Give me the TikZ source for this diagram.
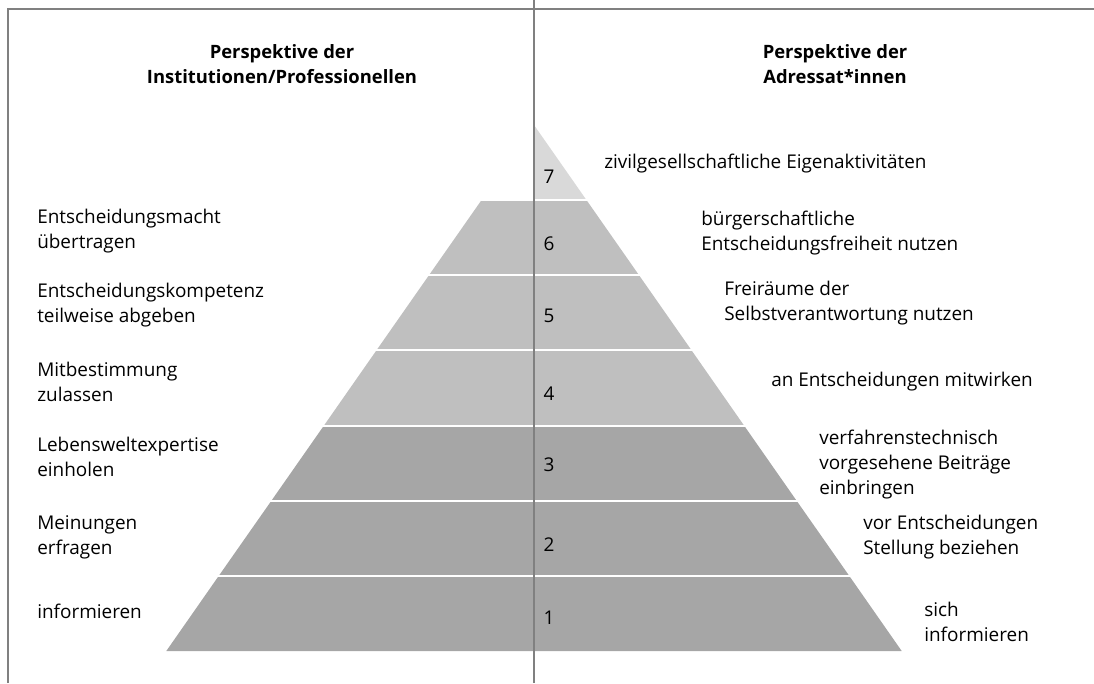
\documentclass[tikz,border=0pt]{standalone}
\usepackage{fontspec}
\setmainfont{Open Sans}
\definecolor{stufeHell}{HTML}{D9D9D9}
\definecolor{stufeMittel}{HTML}{BFBFBF}
\definecolor{stufeDunkel}{HTML}{A6A6A6}
\definecolor{rahmen}{HTML}{808080}

\begin{document}
\begin{tikzpicture}[x=0.75pt,y=0.75pt,yscale=-1,xscale=1,
  txt/.style={anchor=west,inner sep=0.75pt,align=left,font=\fontsize{14.2}{18.75}\selectfont},
  kopf/.style={inner sep=0.75pt,align=center,font=\bfseries\fontsize{13.8}{18.75}\selectfont},
  nummer/.style={inner sep=0.75pt,font=\fontsize{14.2}{18.75}\selectfont},
  trenner/.style={draw=white,line width=1.5pt},
  linie/.style={draw=rahmen,line width=1pt}]
\path[use as bounding box] (0,0) rectangle (1094,683);

%Shape: Triangle [stufe 7]
\fill[stufeHell] (534,125) -- (586.5,200.1) -- (534,200.1) -- cycle ;
%Shape: Trapezoid [stufe 6]
\fill[stufeMittel] (481.5,200.1) -- (586.5,200.1) -- (639.1,275.3) -- (428.9,275.3) -- cycle ;
%Shape: Trapezoid [stufe 5]
\fill[stufeMittel] (428.9,275.3) -- (639.1,275.3) -- (691.6,350.4) -- (376.4,350.4) -- cycle ;
%Shape: Trapezoid [stufe 4]
\fill[stufeMittel] (376.4,350.4) -- (691.6,350.4) -- (744.1,425.6) -- (323.9,425.6) -- cycle ;
%Shape: Trapezoid [stufe 3]
\fill[stufeDunkel] (323.9,425.6) -- (744.1,425.6) -- (796.6,500.7) -- (271.4,500.7) -- cycle ;
%Shape: Trapezoid [stufe 2]
\fill[stufeDunkel] (271.4,500.7) -- (796.6,500.7) -- (849.2,575.8) -- (218.8,575.8) -- cycle ;
%Shape: Trapezoid [stufe 1]
\fill[stufeDunkel] (218.8,575.8) -- (849.2,575.8) -- (901.7,651) -- (166.3,651) -- cycle ;

%Straight Lines [trenner]
\draw[trenner] (478,200.1) -- (590,200.1) ;
\draw[trenner] (425,275.3) -- (643,275.3) ;
\draw[trenner] (372,350.4) -- (696,350.4) ;
\draw[trenner] (319,425.6) -- (749,425.6) ;
\draw[trenner] (266,500.7) -- (802,500.7) ;
\draw[trenner] (213,575.8) -- (855,575.8) ;

%Straight Lines [rahmen]
\coordinate (ecke) at (8,9) ;
\coordinate (obenR) at (1094,9) ;
\coordinate (untenL) at (8,683) ;
\coordinate (mitteO) at (534,0) ;
\coordinate (mitteU) at (534,683) ;
\draw[linie] (untenL) -- (ecke) -- (obenR) ;
\draw[linie] (mitteO) -- (mitteU) ;

% Text Node
\node[kopf] (kopfL) at (282,64) {Perspektive der\\Institutionen/Professionellen};
% Text Node
\node[kopf] (kopfR) at (835,64) {Perspektive der\\Adressat*innen};

% Text Node
\node[nummer] (nr7) at (549,177) {7};
\node[nummer] (nr6) at (549,244) {6};
\node[nummer] (nr5) at (549,316) {5};
\node[nummer] (nr4) at (549,394) {4};
\node[nummer] (nr3) at (549,465) {3};
\node[nummer] (nr2) at (549,545) {2};
\node[nummer] (nr1) at (549,618) {1};

% Text Node
\node[txt] (inst6) at (36,231) {Entscheidungsmacht\\übertragen};
\node[txt] (inst5) at (36,305) {Entscheidungskompetenz\\teilweise abgeben};
\node[txt] (inst4) at (36,382) {Mitbestimmung\\zulassen};
\node[txt] (inst3) at (36,457) {Lebensweltexpertise\\einholen};
\node[txt] (inst2) at (36,537) {Meinungen\\erfragen};
\node[txt] (inst1) at (36,611) {informieren};

% Text Node
\node[txt] (adr7) at (603,164) {zivilgesellschaftliche Eigenaktivitäten};
\node[txt] (adr6) at (700,233) {bürgerschaftliche\\Entscheidungsfreiheit nutzen};
\node[txt] (adr5) at (723,303) {Freiräume der\\Selbstverantwortung nutzen};
\node[txt] (adr4) at (770,382) {an Entscheidungen mitwirken};
\node[txt] (adr3) at (818,465) {verfahrenstechnisch\\vorgesehene Beiträge\\einbringen};
\node[txt] (adr2) at (862,537) {vor Entscheidungen\\Stellung beziehen};
\node[txt] (adr1) at (923,622) {sich\\informieren};

\end{tikzpicture}
\end{document}
